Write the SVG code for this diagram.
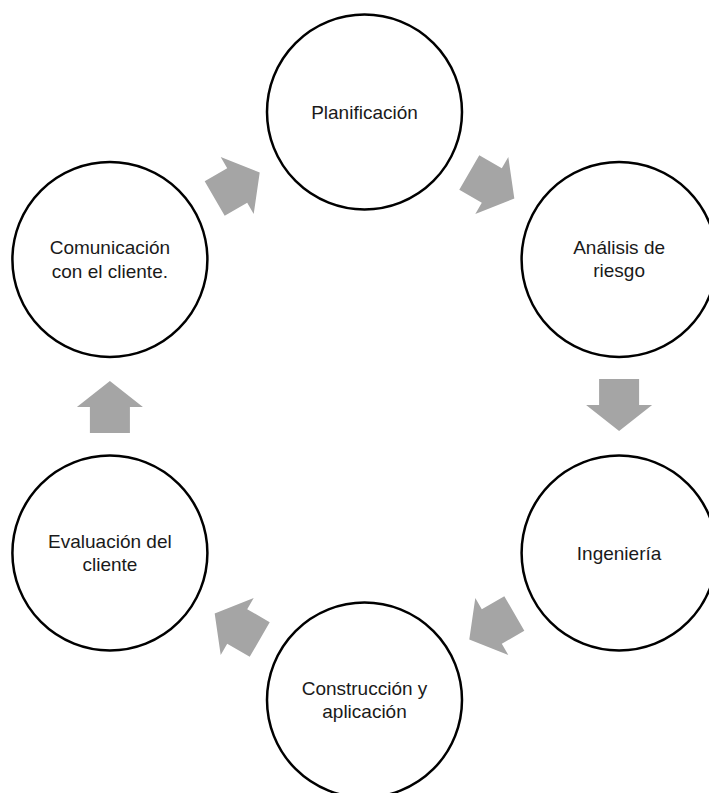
<svg xmlns="http://www.w3.org/2000/svg" xmlns:xlink="http://www.w3.org/1999/xlink" width="709" height="793" viewBox="0 0 709 793">
  <style>
    .node circle { fill: #FFFFFF; stroke: #000000; stroke-width: 2.5; }
    .node text { font-family: "Liberation Sans", Arial, sans-serif; font-size: 19px; fill: #1a1a1a; text-anchor: middle; }
    .arrow { fill: #A5A5A5; }
  </style>
  <defs>
    <path id="blockArrow" class="arrow" d="M -26 -20 L 0 -20 L 0 -33 L 26 0 L 0 33 L 0 20 L -26 20 Z"/>
  </defs>
  <rect width="709" height="793" fill="#FFFFFF"/>
  <g id="connectors">
    <use xlink:href="#blockArrow" href="#blockArrow" transform="translate(237.2,185.5) rotate(-30)"/>
    <use xlink:href="#blockArrow" href="#blockArrow" transform="translate(491.8,185.5) rotate(30)"/>
    <use xlink:href="#blockArrow" href="#blockArrow" transform="translate(619.1,405) rotate(90)"/>
    <use xlink:href="#blockArrow" href="#blockArrow" transform="translate(491.8,626.5) rotate(150)"/>
    <use xlink:href="#blockArrow" href="#blockArrow" transform="translate(237.2,626.5) rotate(210)"/>
    <use xlink:href="#blockArrow" href="#blockArrow" transform="translate(109.9,407) rotate(-90)"/>
  </g>
  <g id="planificacion" class="node">
    <circle cx="364.5" cy="112" r="97.5"/>
    <text x="364.5" y="118.5">Planificación</text>
  </g>
  <g id="analisis" class="node">
    <circle cx="619.1" cy="259.5" r="97.5"/>
    <text x="619.1" y="253.5">Análisis de</text>
    <text x="619.1" y="277">riesgo</text>
  </g>
  <g id="ingenieria" class="node">
    <circle cx="619.1" cy="553" r="97.5"/>
    <text x="619.1" y="559.5">Ingeniería</text>
  </g>
  <g id="construccion" class="node">
    <circle cx="364.5" cy="700" r="97.5"/>
    <text x="364.5" y="694.5">Construcción y</text>
    <text x="364.5" y="718">aplicación</text>
  </g>
  <g id="evaluacion" class="node">
    <circle cx="109.9" cy="553" r="97.5"/>
    <text x="109.9" y="547.5">Evaluación del</text>
    <text x="109.9" y="571">cliente</text>
  </g>
  <g id="comunicacion" class="node">
    <circle cx="109.9" cy="259.5" r="97.5"/>
    <text x="109.9" y="254">Comunicación</text>
    <text x="109.9" y="277.5">con el cliente.</text>
  </g>
</svg>
